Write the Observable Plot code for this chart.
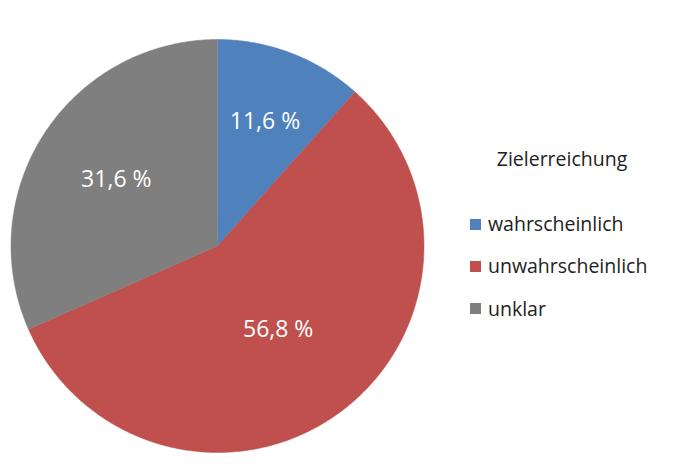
<!DOCTYPE html>
<html>
<head>
<meta charset="utf-8">
<script src="https://cdn.jsdelivr.net/npm/d3@7"></script>
<script src="https://cdn.jsdelivr.net/npm/@observablehq/plot@0.6"></script>
<style>
  html, body { margin: 0; padding: 0; background: #fff; }
  #wrap { position: relative; width: 676px; height: 471px; font-family: "Open Sans", sans-serif; }
  #legend { position: absolute; left: 470px; top: 0; color: #222; }
  #legend .title { position: absolute; left: 92px; top: 146px; height: 26px; line-height: 26px; font-size: 19.5px; white-space: nowrap; transform: translateX(-50%); }
  #legend .item { position: absolute; left: 0; white-space: nowrap; font-size: 19.5px; display: flex; align-items: center; height: 26px; line-height: 26px; }
  #legend .sw { width: 11px; height: 11px; margin-right: 7px; }
</style>
</head>
<body>
<div id="wrap"></div>
<script>
const categories = ["wahrscheinlich", "unwahrscheinlich", "unklar"];
const values = [11.6, 56.8, 31.6];
const colors = ["#4F81BD", "#C0504D", "#7F7F7F"];
const legendTitle = "Zielerreichung";

// layout settings
const labelRadius = [0.645, 0.50, 0.585];
const W = 676, H = 471;

const total = d3.sum(values);
let acc = 0;
const slices = categories.map((c, i) => {
  const a0 = acc / total * 2 * Math.PI;
  acc += values[i];
  const a1 = acc / total * 2 * Math.PI;
  return {cat: c, value: values[i], a0, a1, mid: (a0 + a1) / 2, i};
});

// outline points of each slice in data units (unit circle), clockwise from 12 o'clock
const outline = [];
for (const s of slices) {
  outline.push({cat: s.cat, x: 0, y: 0});
  const n = Math.max(2, Math.ceil((s.a1 - s.a0) / 0.01));
  for (let k = 0; k <= n; k++) {
    const a = s.a0 + (s.a1 - s.a0) * k / n;
    outline.push({cat: s.cat, x: Math.sin(a), y: Math.cos(a)});
  }
}

const labels = slices.map(s => ({
  x: labelRadius[s.i] * Math.sin(s.mid),
  y: labelRadius[s.i] * Math.cos(s.mid),
  text: s.value.toFixed(1).replace(".", ",") + " %"
}));

const chart = Plot.plot({
  width: W,
  height: H,
  marginLeft: 10.5,
  marginRight: 252.5,
  marginTop: 39,
  marginBottom: 19,
  x: {domain: [-1, 1], axis: null},
  y: {domain: [-1, 1], axis: null},
  color: {domain: categories, range: colors},
  style: {fontFamily: "Open Sans, sans-serif", background: "#fff"},
  marks: [
    Plot.line(outline, {x: "x", y: "y", z: "cat", fill: "cat", stroke: "cat", strokeWidth: 0.5, curve: "linear-closed"}),
    Plot.text(labels, {x: "x", y: "y", text: "text", fill: "white", fontSize: 23})
  ]
});

const wrap = document.getElementById("wrap");
wrap.appendChild(chart);

const legend = document.createElement("div");
legend.id = "legend";
const t = document.createElement("div");
t.className = "title";
t.textContent = legendTitle;
legend.appendChild(t);
const centers = [224, 266, 308.5];
categories.forEach((c, i) => {
  const it = document.createElement("div");
  it.className = "item";
  it.style.top = (centers[i] - 13) + "px";
  const sw = document.createElement("span");
  sw.className = "sw";
  sw.style.background = colors[i];
  const tx = document.createElement("span");
  tx.textContent = c;
  it.appendChild(sw);
  it.appendChild(tx);
  legend.appendChild(it);
});
wrap.appendChild(legend);
</script>
</body>
</html>
